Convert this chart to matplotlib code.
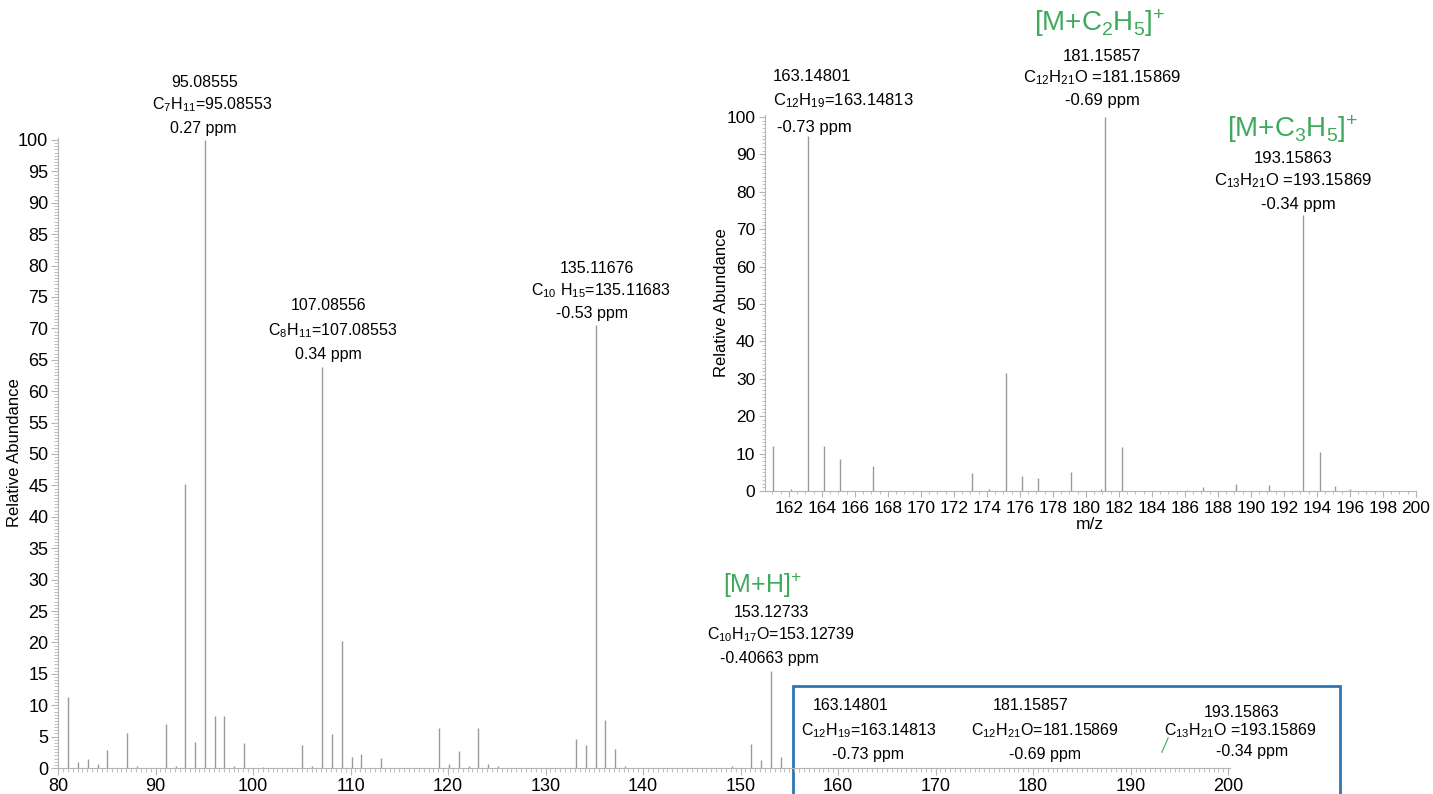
import numpy as np
import matplotlib
matplotlib.use('Agg')
import matplotlib.pyplot as plt
from matplotlib.ticker import MultipleLocator
from matplotlib.patches import Rectangle
from matplotlib import font_manager as fm

names = {f.name for f in fm.fontManager.ttflist}
NARROW = 'Liberation Sans Narrow' if 'Liberation Sans Narrow' in names else 'Liberation Sans'

plt.rcParams['font.family'] = ['Liberation Sans', 'DejaVu Sans']
plt.rcParams['mathtext.fontset'] = 'custom'
plt.rcParams['mathtext.rm'] = 'Liberation Sans'
plt.rcParams['mathtext.it'] = 'Liberation Sans:italic'
plt.rcParams['mathtext.bf'] = 'Liberation Sans:bold'

# full scan spectrum (m/z, relative abundance)
main_mz = [81.07, 82.05, 83.06, 84.05, 85.07, 87.04, 88.05, 91.05, 92.06, 93.07,
           94.07, 95.09, 96.09, 97.06, 98.07, 99.04, 101.06, 105.07, 106.07, 107.09,
           108.09, 109.10, 110.10, 111.08, 113.10, 119.09, 120.09, 121.10, 122.10, 123.12,
           124.11, 125.10, 133.10, 134.11, 135.12, 136.12, 137.13, 138.13, 149.10, 151.11,
           152.12, 153.13, 154.13]
main_int = [11.3, 0.9, 1.4, 0.7, 2.8, 5.6, 0.3, 7.0, 0.4, 45.2,
            4.2, 100, 8.3, 8.3, 0.4, 4.0, 0.2, 3.6, 0.3, 63.8,
            5.4, 20.2, 1.7, 2.2, 1.6, 6.3, 0.6, 2.7, 0.3, 6.3,
            0.6, 0.3, 4.7, 3.6, 70.5, 7.7, 3.0, 0.3, 0.3, 3.9,
            1.2, 15.4, 1.7]

# zoomed region 160-200
ins_mz = [161.01, 162.10, 163.15, 164.15, 165.07, 167.09, 173.10, 174.10, 175.15, 176.10,
          177.10, 179.10, 180.90, 181.16, 182.16, 186.10, 187.10, 189.10, 191.10, 193.16,
          194.16, 195.10, 196.00]
ins_int = [12.0, 0.5, 94.9, 12.0, 8.5, 6.7, 4.7, 0.6, 31.6, 3.9,
           3.6, 5.0, 0.5, 100, 11.8, 0.4, 1.1, 2.0, 1.6, 73.9,
           10.5, 1.3, 0.6]

GRAY = '#b4b4b4'
PEAK = '#9a9a9a'
GREEN = '#3DAA5C'
BLUE = '#2E75B6'
FS = 11.5

fig = plt.figure(figsize=(14.33, 7.94), dpi=100)

# ---- main spectrum
ax = fig.add_axes([0.0405, 0.0327, 0.8179, 0.7934])
ax.vlines(main_mz, 0, main_int, color=PEAK, lw=1)
ax.set_xlim(80, 200.2)
ax.set_ylim(0, 100.3)
for s in ['top', 'right']:
    ax.spines[s].set_visible(False)
for s in ['left', 'bottom']:
    ax.spines[s].set_color(GRAY)
ax.xaxis.set_major_locator(MultipleLocator(10))
ax.xaxis.set_minor_locator(MultipleLocator(0.5))
ax.yaxis.set_major_locator(MultipleLocator(5))
ax.yaxis.set_minor_locator(MultipleLocator(0.5))
ax.tick_params(which='major', length=5, color=GRAY, width=0.8, labelsize=13, pad=2)
ax.tick_params(which='minor', length=3, color=GRAY, width=0.6)
ax.set_ylabel('Relative Abundance', fontsize=12)
ax.yaxis.set_label_coords(-0.031, 0.5)


def lab(a, x, y, s, **kw):
    a.text(x, y, s, ha='center', va='center', fontsize=FS, clip_on=False, **kw)


lab(ax, 95.08, 109.1, '95.08555')
lab(ax, 95.8, 105.6, r'C$_{7}$H$_{11}$=95.08553')
lab(ax, 94.9, 101.8, '0.27 ppm')

lab(ax, 107.7, 73.7, '107.08556')
lab(ax, 108.2, 69.7, r'C$_{8}$H$_{11}$=107.08553')
lab(ax, 107.7, 65.8, '0.34 ppm')

lab(ax, 135.3, 79.6, '135.11676')
lab(ax, 135.7, 76.0, r'C$_{10}$ H$_{15}$=135.11683')
lab(ax, 134.8, 72.3, '-0.53 ppm')

ax.text(152.2, 29.1, r'[M+H]$^{+}$', ha='center', va='center', fontsize=18, color=GREEN)
lab(ax, 153.2, 24.7, '153.12733')
lab(ax, 154.1, 21.2, r'C$_{10}$H$_{17}$O=153.12739')
lab(ax, 153.0, 17.4, '-0.40663 ppm')

# box with the three adduct assignments
box = Rectangle((155.38, -4.5), 56.1, 17.56, fill=False, ec=BLUE, lw=2, clip_on=False)
ax.add_patch(box)
lab(ax, 161.3, 9.9, '163.14801')
lab(ax, 163.1, 5.9, r'C$_{12}$H$_{19}$=163.14813')
lab(ax, 163.1, 2.2, '-0.73 ppm')
lab(ax, 179.7, 9.9, '181.15857')
lab(ax, 181.2, 5.9, r'C$_{12}$H$_{21}$O=181.15869')
lab(ax, 181.2, 2.2, '-0.69 ppm')
lab(ax, 201.4, 8.9, '193.15863')
lab(ax, 201.2, 5.9, r'C$_{13}$H$_{21}$O =193.15869')
lab(ax, 202.5, 2.7, '-0.34 ppm')
ax.plot([193.2, 193.85], [2.5, 4.8], color=GREEN, lw=0.8, clip_on=False)

# ---- inset (zoom 160-200)
ax_in = fig.add_axes([0.5338, 0.3816, 0.4543, 0.4735])
ax_in.vlines(ins_mz, 0, ins_int, color=PEAK, lw=1)
ax_in.set_xlim(160.55, 200)
ax_in.set_ylim(0, 100.5)
for s in ['top', 'right']:
    ax_in.spines[s].set_visible(False)
for s in ['left', 'bottom']:
    ax_in.spines[s].set_color(GRAY)
ax_in.xaxis.set_major_locator(MultipleLocator(2))
ax_in.xaxis.set_minor_locator(MultipleLocator(0.5))
ax_in.yaxis.set_major_locator(MultipleLocator(10))
ax_in.yaxis.set_minor_locator(MultipleLocator(1))
ax_in.tick_params(which='major', length=4, color=GRAY, width=0.8, labelsize=12.5, pad=3)
ax_in.tick_params(which='minor', length=2.5, color=GRAY, width=0.6)
for t in ax_in.get_xticklabels() + ax_in.get_yticklabels():
    t.set_family(NARROW)
ax_in.set_xlabel('m/z', fontsize=12.5, family=NARROW)
ax_in.xaxis.set_label_coords(0.499, -0.07)
ax_in.set_ylabel('Relative Abundance', fontsize=12, family=NARROW)
ax_in.yaxis.set_label_coords(-0.055, 0.5)


def lab_in(x, y, s, ha='center'):
    ax_in.text(x, y, s, ha=ha, va='center', fontsize=12, family=NARROW, clip_on=False)


lab_in(161.03, 110.9, '163.14801', ha='left')
lab_in(161.03, 104.3, r'C$_{12}$H$_{19}$=163.14813', ha='left')
lab_in(161.3, 97.1, '-0.73 ppm', ha='left')

ax_in.text(180.85, 125, r'[M+C$_{2}$H$_{5}$]$^{+}$', ha='center', va='center',
           fontsize=20, color=GREEN, family=NARROW)
lab_in(181.0, 116.2, '181.15857')
lab_in(181.0, 110.4, r'C$_{12}$H$_{21}$O =181.15869')
lab_in(181.0, 104.3, '-0.69 ppm')

ax_in.text(192.55, 96.8, r'[M+C$_{3}$H$_{5}$]$^{+}$', ha='center', va='center',
           fontsize=20, color=GREEN, family=NARROW)
lab_in(192.55, 88.8, '193.15863')
lab_in(192.55, 83.0, r'C$_{13}$H$_{21}$O =193.15869')
lab_in(192.85, 76.6, '-0.34 ppm')

# arrow from the box up to the inset
ax_in.annotate('', xy=(182.1, -11.4), xycoords='data',
               xytext=(183.5, 13.06), textcoords=ax.transData,
               arrowprops=dict(arrowstyle='-|>,head_length=0.7,head_width=0.35',
                               color=BLUE, lw=3.2, shrinkA=0, shrinkB=0,
                               mutation_scale=20))

fig.savefig('out.png', dpi=100)
